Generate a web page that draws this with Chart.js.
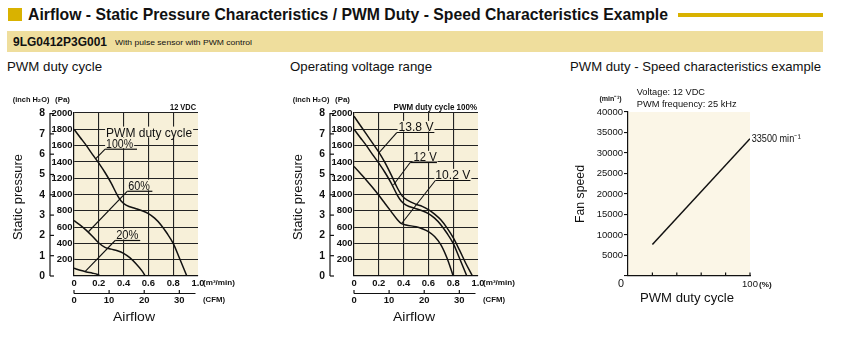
<!DOCTYPE html>
<html>
<head>
<meta charset="utf-8">
<script src="https://cdn.jsdelivr.net/npm/chart.js@4.4.1/dist/chart.umd.min.js"></script>
<style>
body { margin: 0; background: #fff; width: 841px; height: 343px; position: relative; overflow: hidden;
  font-family: "Liberation Sans", Arial, sans-serif; color: #111; }
.abs { position: absolute; white-space: nowrap; transform-origin: 0 50%; line-height: 1; }
canvas { position: absolute; }
</style>
</head>
<body>
<div class="abs" style="left:8px;top:8px;width:14px;height:13px;background:#d9b200"></div>
<div class="abs fit" data-w="640" style="left:28px;top:5.6px;font-size:17px;font-weight:bold">Airflow - Static Pressure Characteristics / PWM Duty - Speed Characteristics Example</div>
<div class="abs" style="left:678px;top:13px;width:145px;height:3.5px;background:#d9b200"></div>
<div class="abs" style="left:7px;top:31px;width:816px;height:21px;background:#efde9d"></div>
<div class="abs fit" data-w="94" style="left:13px;top:35.7px;font-size:12.2px;font-weight:bold">9LG0412P3G001</div>
<div class="abs fit" data-w="137" style="left:115px;top:38.7px;font-size:7.5px">With pulse sensor with PWM control</div>
<div class="abs fit" data-w="95" style="left:7px;top:59.7px;font-size:13px">PWM duty cycle</div>
<div class="abs fit" data-w="142" style="left:290px;top:59.7px;font-size:13px">Operating voltage range</div>
<div class="abs fit" data-w="251" style="left:570px;top:59.7px;font-size:13px">PWM duty - Speed characteristics example</div>

<canvas id="pwm" width="280" height="245" style="left:0;top:88px"></canvas>
<canvas id="volt" width="280" height="245" style="left:280px;top:88px"></canvas>
<canvas id="speed" width="281" height="240" style="left:560px;top:85px"></canvas>

<script>
// airflow (m3/min) / static pressure (Pa), PWM duty cycle chart
const FLOW_100 = [0, 0.05, 0.1, 0.15, 0.2, 0.25, 0.3, 0.35, 0.38, 0.42, 0.5, 0.55, 0.6, 0.65, 0.7, 0.75, 0.8, 0.85, 0.91];
const PA_100 = [1800, 1700, 1600, 1490, 1385, 1270, 1140, 990, 920, 870, 825, 800, 765, 710, 630, 525, 400, 220, 0];
const FLOW_60 = [0, 0.05, 0.1, 0.15, 0.2, 0.25, 0.3, 0.35, 0.4, 0.45, 0.5, 0.55, 0.575];
const PA_60 = [680, 625, 560, 485, 405, 352, 330, 310, 278, 225, 150, 60, 0];
const FLOW_20 = [0, 0.05, 0.1, 0.15, 0.19, 0.21];
const PA_20 = [95, 70, 50, 35, 18, 0];

// operating voltage range chart (12 V is the same curve as 100 %)
const FLOW_138 = [0, 0.05, 0.1, 0.15, 0.2, 0.25, 0.3, 0.35, 0.39, 0.43, 0.5, 0.55, 0.6, 0.65, 0.7, 0.75, 0.8, 0.85, 0.9, 0.955];
const PA_138 = [1960, 1850, 1740, 1630, 1520, 1390, 1240, 1080, 980, 930, 880, 855, 815, 760, 690, 590, 470, 320, 160, 0];
const FLOW_12 = FLOW_100;
const PA_12 = PA_100;
const FLOW_102 = [0, 0.05, 0.1, 0.15, 0.2, 0.25, 0.3, 0.35, 0.38, 0.42, 0.5, 0.55, 0.6, 0.65, 0.7, 0.75, 0.8];
const PA_102 = [1345, 1260, 1175, 1085, 990, 890, 790, 690, 645, 625, 605, 580, 545, 485, 385, 220, 0];

// PWM duty (%) / fan speed (min-1)
const DUTY = [20, 100];
const SPEED = [7700, 33500];

// ticks
const INCH_TICKS = [0, 1, 2, 3, 4, 5, 6, 7, 8];
const CFM_TICKS = [0, 10, 20, 30];
const DUTY_TICKS = [0, 20, 40, 60, 80, 100];

const PA_PER_INCH = 249.089;
const CFM_PER_M3 = 35.3147;
const INK = "#111";
const GRID = "#222";

function hasFont(name) {
	const c = document.createElement("canvas").getContext("2d");
	c.font = "40px monospace";
	const a = c.measureText("0123456789abcdef").width;
	c.font = `40px "${name}", monospace`;
	return c.measureText("0123456789abcdef").width !== a;
}
const NARROW = hasFont("Liberation Sans Narrow");
function tickFont(size, weight, k) {
	return NARROW
		? { family: '"Liberation Sans Narrow"', size: size, weight: weight }
		: { family: '"Liberation Sans", Arial', size: size * (k || 0.9), weight: weight };
}

document.querySelectorAll(".fit").forEach((el) => {
	const w = el.getBoundingClientRect().width;
	el.style.transform = `scaleX(${el.dataset.w / w})`;
});

function drawText(ctx, t) {
	ctx.save();
	ctx.font = `${t.bold ? "bold " : ""}${t.size}px "Liberation Sans", Arial, sans-serif`;
	ctx.fillStyle = INK;
	ctx.textBaseline = t.base || "middle";
	const m = ctx.measureText(t.s).width;
	const k = t.w ? t.w / m : 1;
	const w = m * k;
	ctx.translate(t.x, t.y);
	if (t.rot) ctx.rotate(t.rot);
	let x0 = 0;
	if (t.align === "center") x0 = -w / 2;
	if (t.align === "right") x0 = -w;
	if (t.box) {
		ctx.fillStyle = t.box;
		ctx.fillRect(x0 - 1, -t.size * 0.78, w + 2, t.size * 0.82);
		ctx.fillStyle = INK;
	}
	ctx.translate(x0, 0);
	ctx.scale(k, 1);
	ctx.textAlign = "left";
	ctx.fillText(t.s, 0, 0);
	ctx.restore();
}

function line(ctx, x0, y0, x1, y1, w) {
	ctx.beginPath();
	ctx.lineWidth = w || 1;
	ctx.strokeStyle = INK;
	ctx.moveTo(x0, y0);
	ctx.lineTo(x1, y1);
	ctx.stroke();
}

function makeDecor(bg, texts, notes, extra) {
	return {
		id: "decor",
		beforeDraw(chart) {
			const { ctx, chartArea: a } = chart;
			ctx.save();
			ctx.fillStyle = bg;
			ctx.fillRect(a.left, a.top, a.right - a.left, a.bottom - a.top);
			ctx.restore();
		},
		afterDraw(chart) {
			const ctx = chart.ctx;
			const sx = chart.scales.x;
			const sy = chart.scales.y;
			if (extra) extra(chart, ctx);
			notes.forEach((n) => {
				const bx = sx.getPixelForValue(n.x);
				const by = sy.getPixelForValue(n.y);
				drawText(ctx, { s: n.s, x: bx, y: by, size: 13, w: n.w, base: "alphabetic", box: bg });
				if (n.u) {
					const u0 = sx.getPixelForValue(n.u[0]);
					const u1 = sx.getPixelForValue(n.u[1]);
					line(ctx, u0, by + 1.5, u1, by + 1.5, 1.2);
					line(ctx, u0, by + 1.5, sx.getPixelForValue(n.lead[0]), sy.getPixelForValue(n.lead[1]), 1.1);
				}
			});
			texts.forEach((t) => drawText(ctx, t));
		},
	};
}

// inch H2O axis line and CFM axis line with inward ticks
function pqExtra(chart, ctx) {
	const y2 = chart.scales.y2;
	const x2 = chart.scales.x2;
	const ax = y2.right - 2;
	line(ctx, ax, y2.top, ax, y2.bottom, 1.2);
	INCH_TICKS.forEach((v) => {
		const p = y2.getPixelForValue(v);
		line(ctx, ax, p, ax + 4, p, 1.2);
	});
	const ay = x2.top + 0.5;
	line(ctx, x2.getPixelForValue(0), ay, x2.getPixelForValue(34.6), ay, 1.2);
	CFM_TICKS.forEach((v) => {
		const p = x2.getPixelForValue(v);
		line(ctx, p, ay, p, ay - 3.5, 1.2);
	});
}

function series(xs, ys) {
	return {
		data: xs.map((x, i) => ({ x: x, y: ys[i] })),
		xAxisID: "x",
		yAxisID: "y",
		borderColor: INK,
		borderWidth: 1.5,
		pointRadius: 0,
		fill: false,
		cubicInterpolationMode: "monotone",
	};
}

function pqChart(id, datasets, texts, notes) {
	const f = tickFont(10.5, "bold");
	return new Chart(document.getElementById(id), {
		type: "line",
		data: { datasets: datasets },
		options: {
			responsive: false,
			animation: false,
			devicePixelRatio: 1,
			layout: { padding: { left: 0, top: 25, right: 82, bottom: 20 } },
			plugins: { legend: { display: false }, tooltip: { enabled: false } },
			scales: {
				x: {
					type: "linear",
					position: "bottom",
					weight: 0,
					min: 0,
					max: 1,
					afterFit: (s) => { s.height = 17; },
					ticks: { stepSize: 0.2, padding: 1.5, font: f, color: INK, maxRotation: 0,
						callback: (v) => (v === 0 ? "0" : v.toFixed(1)) },
					grid: { drawTicks: false, lineWidth: 1.1,
						color: (c) => (c.tick && (c.tick.value < 1e-6 || c.tick.value > 0.999) ? "rgba(0,0,0,0)" : GRID) },
					border: { color: INK, width: 1.2 },
				},
				x2: {
					type: "linear",
					position: "bottom",
					weight: 1,
					min: 0,
					max: CFM_PER_M3,
					afterFit: (s) => { s.height = 20; },
					afterBuildTicks: (s) => { s.ticks = CFM_TICKS.map((v) => ({ value: v })); },
					ticks: { padding: 1.5, font: f, color: INK, maxRotation: 0 },
					grid: { display: false, drawTicks: false },
					border: { display: false },
				},
				y: {
					type: "linear",
					position: "left",
					weight: 0,
					min: 0,
					max: 2000,
					afterFit: (s) => { s.width = 22; },
					ticks: { stepSize: 200, padding: 1.5, font: f, color: INK,
						callback: (v) => (v === 0 ? "" : String(v)) },
					grid: { drawTicks: false, color: GRID, lineWidth: 1.1 },
					border: { color: INK, width: 1.2 },
				},
				y2: {
					type: "linear",
					position: "left",
					weight: 1,
					min: 0,
					max: 2000 / PA_PER_INCH,
					afterFit: (s) => { s.width = 52; },
					afterBuildTicks: (s) => { s.ticks = INCH_TICKS.map((v) => ({ value: v })); },
					ticks: { padding: 7, font: tickFont(11.5, "bold"), color: INK },
					grid: { display: false, drawTicks: false },
					border: { display: false },
				},
			},
		},
		plugins: [makeDecor("#f7f0d9", texts, notes, pqExtra)],
	});
}

function axisTexts(topText) {
	return [
		{ s: "(inch H₂O)", x: 12.7, y: 12, size: 8, bold: true, w: 36.7 },
		{ s: "(Pa)", x: 55, y: 12, size: 8, bold: true, w: 15 },
		topText,
		{ s: "Static pressure", x: 18.3, y: 109, size: 13.5, w: 86, align: "center", rot: -Math.PI / 2 },
		{ s: "(m³/min)", x: 203, y: 195, size: 8, bold: true, w: 32 },
		{ s: "(CFM)", x: 203, y: 212, size: 8, bold: true, w: 22 },
		{ s: "Airflow", x: 134, y: 229, size: 13.5, w: 42, align: "center" },
	];
}

pqChart(
	"pwm",
	[series(FLOW_100, PA_100), series(FLOW_60, PA_60), series(FLOW_20, PA_20)],
	axisTexts({ s: "12 VDC", x: 196, y: 20, size: 8.5, bold: true, w: 26, align: "right" }),
	[
		{ s: "PWM duty cycle", x: 0.259, y: 1709, w: 86 },
		{ s: "100%", x: 0.259, y: 1574, w: 27, u: [0.251, 0.508], lead: [0.176, 1440] },
		{ s: "60%", x: 0.437, y: 1058, w: 21.7, u: [0.429, 0.632], lead: [0.116, 543] },
		{ s: "20%", x: 0.34, y: 454, w: 22.3, u: [0.332, 0.534], lead: [0.089, 53] },
	]
);

pqChart(
	"volt",
	[series(FLOW_138, PA_138), series(FLOW_12, PA_12), series(FLOW_102, PA_102)],
	axisTexts({ s: "PWM duty cycle 100%", x: 197, y: 20, size: 8.5, bold: true, w: 83.4, align: "right" }),
	[
		{ s: "13.8 V", x: 0.359, y: 1779, w: 35, u: [0.345, 0.648], lead: [0.197, 1506] },
		{ s: "12 V", x: 0.48, y: 1411, w: 23.3, u: [0.453, 0.669], lead: [0.318, 1117] },
		{ s: "10.2 V", x: 0.656, y: 1190, w: 35, u: [0.656, 0.939], lead: [0.386, 647] },
	]
);

const speedTexts = [
	{ s: "(min⁻¹)", x: 61.7, y: 14, size: 8, bold: true, w: 22.3, align: "right" },
	{ s: "Voltage: 12 VDC", x: 76.7, y: 7.3, size: 9.5, w: 68.3 },
	{ s: "PWM frequency: 25 kHz", x: 76.7, y: 19.3, size: 9.5, w: 100 },
	{ s: "33500 min⁻¹", x: 191.7, y: 54, size: 10.5, w: 49 },
	{ s: "0", x: 61, y: 199, size: 10.5, w: 6, align: "center" },
	{ s: "(%)", x: 199, y: 199.5, size: 8, bold: true, w: 12.7 },
	{ s: "PWM duty cycle", x: 127, y: 213.3, size: 13.5, w: 94, align: "center" },
	{ s: "Fan speed", x: 20.7, y: 109, size: 13.5, w: 58, align: "center", rot: -Math.PI / 2 },
];

new Chart(document.getElementById("speed"), {
	type: "line",
	data: {
		datasets: [{
			data: DUTY.map((x, i) => ({ x: x, y: SPEED[i] })),
			borderColor: INK,
			borderWidth: 1.5,
			pointRadius: 0,
			fill: false,
		}],
	},
	options: {
		responsive: false,
		animation: false,
		devicePixelRatio: 1,
		layout: { padding: { left: 0, top: 27, right: 91, bottom: 33 } },
		plugins: { legend: { display: false }, tooltip: { enabled: false } },
		scales: {
			x: {
				type: "linear",
				min: 0,
				max: 100,
				afterFit: (s) => { s.height = 16; },
				afterBuildTicks: (s) => { s.ticks = DUTY_TICKS.map((v) => ({ value: v })); },
				ticks: { padding: 2.5, font: tickFont(11, "normal", 0.86), color: INK, maxRotation: 0,
					callback: (v) => (v === 100 ? "100" : "") },
				grid: { display: false, drawTicks: false },
				border: { color: INK, width: 1.2 },
			},
			y: {
				type: "linear",
				min: 0,
				max: 40000,
				afterFit: (s) => { s.width = 68; },
				ticks: { stepSize: 5000, padding: 1, font: tickFont(11, "normal", 0.86), color: INK,
					callback: (v) => (v === 0 ? "" : String(v)) },
				grid: { drawOnChartArea: false, drawTicks: true, tickLength: 4, color: INK, lineWidth: 1.1 },
				border: { color: INK, width: 1.2 },
			},
		},
	},
	plugins: [makeDecor("#fbf6e7", speedTexts, [], (chart, ctx) => {
		const sx = chart.scales.x;
		DUTY_TICKS.slice(1).forEach((v) => {
			const p = sx.getPixelForValue(v);
			line(ctx, p, sx.top, p, sx.top - 3.5, 1.2);
		});
	})],
});
</script>
</body>
</html>
